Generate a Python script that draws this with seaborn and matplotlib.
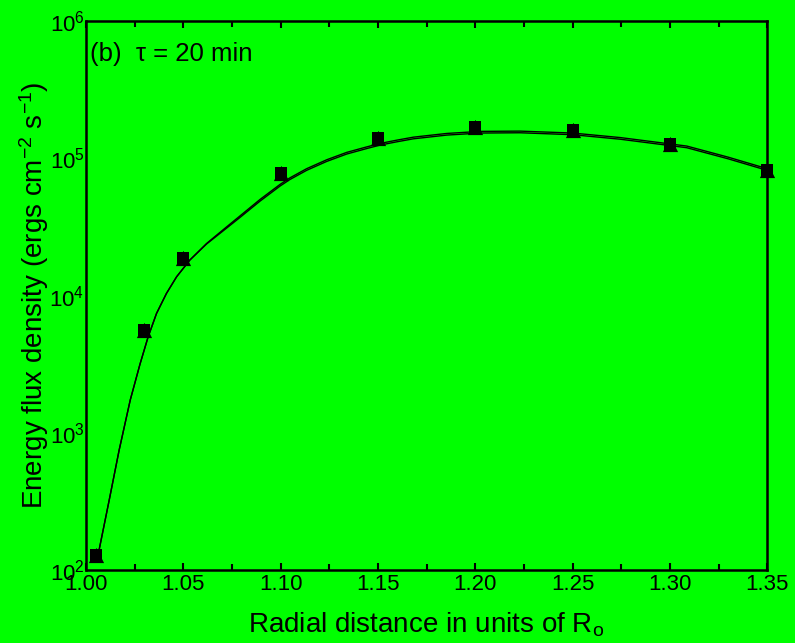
import numpy as np
import pandas as pd
import matplotlib
matplotlib.use("Agg")
import matplotlib.pyplot as plt
import matplotlib.ticker as mticker
import seaborn as sns

# measured points (two overlapping series: squares and triangles)
r_obs = [1.005, 1.03, 1.05, 1.10, 1.15, 1.20, 1.25, 1.30, 1.35]
flux_sq = [129, 5610, 18750, 78500, 141000, 170000, 160600, 126500, 83000]
flux_tri = [129, 5610, 18750, 78500, 141000, 170000, 160600, 126500, 83000]

# fitted curves (two nearly coincident lines), log10 of flux
r_fit = [1.0050, 1.0068, 1.0120, 1.0171, 1.0228, 1.0278, 1.0320, 1.0363, 1.0414,
         1.0466, 1.0534, 1.0620, 1.0723, 1.0791, 1.0894, 1.0997, 1.1048, 1.1134,
         1.1237, 1.1340, 1.1443, 1.1511, 1.1597, 1.1683, 1.1854, 1.2026, 1.2230,
         1.2500, 1.2745, 1.3087, 1.3300, 1.3500]
logf_a = [2.100, 2.146, 2.510, 2.874, 3.239, 3.500, 3.700, 3.870, 4.016,
          4.137, 4.259, 4.380, 4.501, 4.580, 4.700, 4.810, 4.858, 4.925,
          4.990, 5.044, 5.084, 5.109, 5.133, 5.155, 5.182, 5.197, 5.199,
          5.185, 5.152, 5.090, 5.009, 4.925]
logf_b = [2.100, 2.146, 2.510, 2.874, 3.239, 3.500, 3.700, 3.870, 4.016,
          4.137, 4.259, 4.376, 4.492, 4.569, 4.688, 4.798, 4.846, 4.913,
          4.978, 5.032, 5.072, 5.097, 5.121, 5.143, 5.170, 5.185, 5.187,
          5.173, 5.140, 5.078, 4.997, 4.913]

green = "#00FF00"
sns.set_theme(style="ticks")
plt.rcParams["font.family"] = ["Liberation Sans", "DejaVu Sans"]
plt.rcParams["mathtext.fontset"] = "custom"
plt.rcParams["mathtext.rm"] = "Liberation Sans"
plt.rcParams["mathtext.it"] = "Liberation Sans:italic"
plt.rcParams["mathtext.default"] = "regular"

fig = plt.figure(figsize=(7.95, 6.43), dpi=100, facecolor=green)
ax = fig.add_axes([0.108, 0.1135, 0.857, 0.8535])
ax.set_facecolor(green)

fit = pd.DataFrame({"r": r_fit + r_fit,
                    "flux": list(10 ** np.array(logf_a)) + list(10 ** np.array(logf_b)),
                    "curve": ["a"] * len(r_fit) + ["b"] * len(r_fit)})
sns.lineplot(data=fit, x="r", y="flux", units="curve", estimator=None, sort=False,
             color="black", linewidth=1.0, ax=ax, legend=False)

obs_sq = pd.DataFrame({"r": r_obs, "flux": flux_sq})
obs_tri = pd.DataFrame({"r": r_obs, "flux": flux_tri})
sns.scatterplot(data=obs_tri, x="r", y="flux", marker="^", s=120, color="black",
                edgecolor="black", linewidth=0, ax=ax, zorder=4, clip_on=False)
sns.scatterplot(data=obs_sq, x="r", y="flux", marker="s", s=80, color="black",
                edgecolor="black", linewidth=0, ax=ax, zorder=5, clip_on=False)

ax.set_yscale("log")
ax.set_xlim(1.00, 1.35)
ax.set_ylim(1e2, 1e6)
ax.xaxis.set_major_locator(mticker.MultipleLocator(0.05))
ax.xaxis.set_minor_locator(mticker.MultipleLocator(0.025))
ax.xaxis.set_major_formatter(mticker.FormatStrFormatter("%.2f"))
ax.yaxis.set_major_locator(mticker.LogLocator(base=10, numticks=10))
ax.yaxis.set_minor_locator(mticker.NullLocator())
ax.yaxis.set_major_formatter(mticker.LogFormatterMathtext())

ax.tick_params(axis="x", which="both", direction="in", top=True, bottom=True,
               width=1.5, colors="black", labelsize=16, pad=3)
ax.tick_params(axis="x", which="major", length=5)
ax.tick_params(axis="x", which="minor", length=4)
ax.tick_params(axis="y", which="major", length=0, labelsize=16, pad=1, colors="black")

for s in ax.spines.values():
    s.set_linewidth(1.8)
    s.set_color("black")

ax.set_xlabel("Radial distance in units of R$_{o}$", fontsize=20, labelpad=11, color="black")
ax.set_ylabel("Energy flux density (ergs cm$^{-2}$ s$^{-1}$)", fontsize=20,
              labelpad=-1, color="black")

ax.text(0.006, 0.962, "(b)  \u03c4 = 20 min", transform=ax.transAxes, fontsize=18.5,
        va="top", ha="left", color="black")

fig.savefig("out.png", dpi=100, facecolor=green)
